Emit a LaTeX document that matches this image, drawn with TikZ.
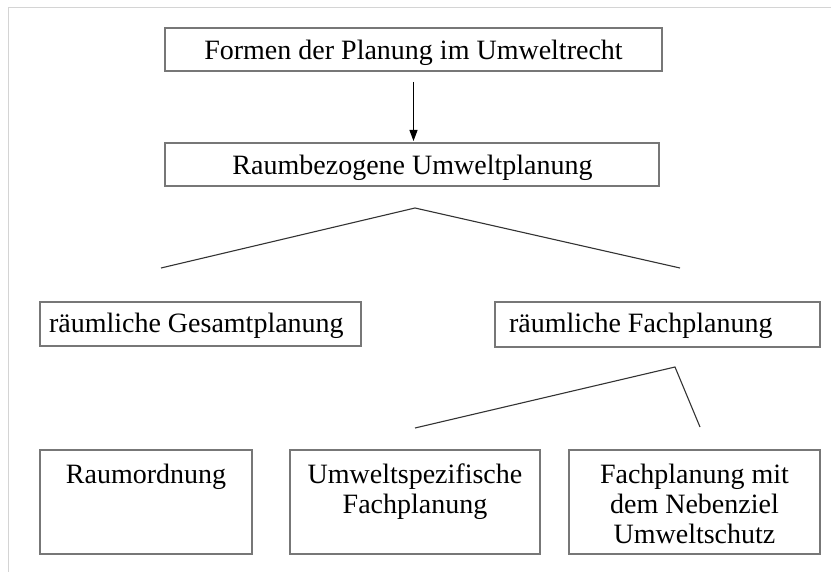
\documentclass[tikz,border=0pt]{standalone}
\usepackage{fontspec}
\setmainfont{Liberation Serif}
\usetikzlibrary{arrows.meta}
\definecolor{boxgray}{HTML}{777777}
\definecolor{linegray}{HTML}{333333}
\definecolor{framegray}{HTML}{D4D4D4}
\begin{document}
\begin{tikzpicture}[x=1pt,y=-1pt,
  box/.style={draw=boxgray, line width=1.5pt, inner sep=0pt, outer sep=0pt, fill=white},
  txt/.style={inner sep=0pt, outer sep=0pt, font=\fontsize{28}{30}\selectfont, text=black},
  branch/.style={draw=linegray, line width=1.1pt},
  arrow/.style={draw=black, line width=1pt, -{Triangle[width=8pt,length=11pt]}}]
  \useasboundingbox (0,0) rectangle (831,572);
  % page frame lines
  \draw[framegray, line width=1pt] (8,7.5) -- (831,7.5);
  \draw[framegray, line width=1pt] (8,7.5) -- (8,572);

  % boxes
  \node[box, minimum width=497pt, minimum height=43pt] (formen) at (413.5,49.5) {};
  \node[box, minimum width=494pt, minimum height=43pt] (raum) at (412,164.5) {};
  \node[box, minimum width=321pt, minimum height=44pt] (gesamt) at (200.5,324) {};
  \node[box, minimum width=325pt, minimum height=45pt] (fach) at (657.5,324.5) {};
  \node[box, minimum width=212pt, minimum height=104pt] (ordnung) at (146,502) {};
  \node[box, minimum width=250pt, minimum height=104pt] (spez) at (415,502) {};
  \node[box, minimum width=251pt, minimum height=104pt] (neben) at (694.5,502) {};

  % labels
  \node[txt, anchor=base] (formenT) at (413.5,60) {Formen der Planung im Umweltrecht};
  \node[txt, anchor=base] (raumT) at (412.5,175) {Raumbezogene Umweltplanung};
  \node[txt, anchor=base west] (gesamtT) at (49,333) {räumliche Gesamtplanung};
  \node[txt, anchor=base west] (fachT) at (509,333) {räumliche Fachplanung};
  \node[txt, anchor=north, align=center] (ordnungT) at (146,464) {Raumordnung};
  \node[txt, anchor=north, align=center] (spezT) at (415,464) {Umweltspezifische\\Fachplanung};
  \node[txt, anchor=north, align=center] (nebenT) at (694.5,464) {Fachplanung mit\\dem Nebenziel\\Umweltschutz};

  % arrow between the two upper boxes
  \draw[arrow, shorten <=11pt, shorten >=2pt] (formen.south) -- (formen.south |- raum.north);

  % first branching
  \coordinate (apexA) at (415,208);
  \coordinate (leftA) at (161,268);
  \coordinate (rightA) at (680,268);
  \draw[branch] (leftA) -- (apexA) -- (rightA);

  % second branching
  \coordinate (apexB) at (675,367);
  \coordinate (leftB) at (415,428);
  \coordinate (rightB) at (700,427);
  \draw[branch] (leftB) -- (apexB) -- (rightB);
\end{tikzpicture}
\end{document}
